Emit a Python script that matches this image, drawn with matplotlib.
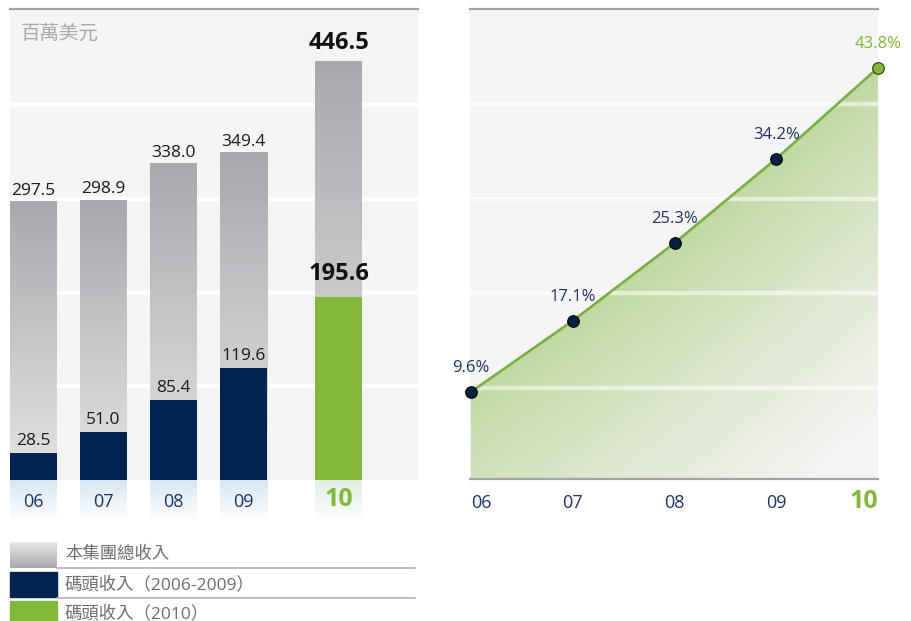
import numpy as np
import matplotlib
matplotlib.use('Agg')
import matplotlib.pyplot as plt
from matplotlib.colors import LinearSegmentedColormap, to_rgb
from matplotlib.patches import Polygon
from matplotlib.transforms import blended_transform_factory

# ---------------- data ----------------
years = ['06', '07', '08', '09', '10']
total_revenue = [297.5, 298.9, 338.0, 349.4, 446.5]
port_revenue = [28.5, 51.0, 85.4, 119.6, 195.6]
port_share = [9.6, 17.1, 25.3, 34.2, 43.8]
unit_label = '百萬美元'
legend_labels = ['本集團總收入', '碼頭收入（2006-2009）', '碼頭收入（2010）']

plt.rcParams['font.family'] = ['Open Sans', 'Noto Sans CJK TC', 'DejaVu Sans']

W, H = 911, 621
fig = plt.figure(figsize=(W / 100, H / 100), dpi=100)
fig.patch.set_facecolor('white')


def px_axes(x0, y0, x1, y1, **kw):
    return fig.add_axes([x0 / W, 1 - y1 / H, (x1 - x0) / W, (y1 - y0) / H], **kw)


NAVY = '#02234f'
GREEN = '#82b73a'
TXT_NAVY = '#1d3461'
BG = '#f4f4f4'
LINE_GRAY = '#a3a3a3'
FS = 12.5

grad = np.linspace(0, 1, 256).reshape(-1, 1)

# ---------------- left: bar chart ----------------
axL = px_axes(10, 9, 418, 480)
axL.set_facecolor(BG)
step = 70.0
xpos = np.array([0, 1, 2, 3, 4.36])
bw = 47 / step
xl = ((10 - 33.5) / step, (418 - 33.5) / step)
yl = (0, 503)
for s in axL.spines.values():
    s.set_visible(False)
axL.set_xticks([])
axL.set_yticks([])
for g in [100, 200, 300, 400]:
    axL.axhline(g, color='white', lw=3.2, zorder=1)
axL.axhline(yl[1], color=LINE_GRAY, lw=1.6, clip_on=False, zorder=6)

gray_cmap = LinearSegmentedColormap.from_list('gbar', ['#e4e4e5', '#a8a9ad'])
for x, v in zip(xpos, total_revenue):
    axL.imshow(grad, cmap=gray_cmap, extent=[x - bw / 2, x + bw / 2, 0, v],
               origin='lower', aspect='auto', zorder=2, interpolation='bilinear')
axL.bar(xpos[:4], port_revenue[:4], width=bw, color=NAVY, zorder=3)
axL.bar(xpos[4], port_revenue[4], width=bw, color=GREEN, zorder=3)

for i, (x, v) in enumerate(zip(xpos, total_revenue)):
    if i == 4:
        axL.annotate(f'{v:.1f}', (x, v), xytext=(0, 5), textcoords='offset points',
                     ha='center', va='bottom', fontsize=17, fontweight='bold',
                     color='#111111', zorder=7)
    else:
        axL.annotate(f'{v:.1f}', (x, v), xytext=(0, 2), textcoords='offset points',
                     ha='center', va='bottom', fontsize=FS, color='#1a1a1a', zorder=7)
for i, (x, v) in enumerate(zip(xpos, port_revenue)):
    if i == 4:
        axL.annotate(f'{v:.1f}', (x, v), xytext=(0, 8), textcoords='offset points',
                     ha='center', va='bottom', fontsize=17, fontweight='bold',
                     color='#111111', zorder=7)
    else:
        axL.annotate(f'{v:.1f}', (x, v), xytext=(0, 3), textcoords='offset points',
                     ha='center', va='bottom', fontsize=FS, color='#1a1a1a', zorder=7)
axL.set_xlim(*xl)
axL.set_ylim(*yl)
axL.text((21 - 10) / 408, 1 - (33 - 9) / 471, unit_label, transform=axL.transAxes,
         ha='left', va='center', fontsize=14, color='#a8a8a8')

# tick area under bars
axT = px_axes(10, 480, 418, 530)
axT.set_axis_off()
blue_cmap = LinearSegmentedColormap.from_list('bt', ['#ffffff', '#d8e6f2'])
green_cmap = LinearSegmentedColormap.from_list('gt', ['#ffffff', '#deecdf'])
for i, x in enumerate(xpos):
    cm = green_cmap if i == 4 else blue_cmap
    axT.imshow(grad, cmap=cm, extent=[x - bw / 2, x + bw / 2, 8, 50],
               origin='lower', aspect='auto', interpolation='bilinear')
    if i == 4:
        axT.text(x, 30, years[i], ha='center', va='center', fontsize=18,
                 fontweight='bold', color=GREEN)
    else:
        axT.text(x, 28, years[i], ha='center', va='center', fontsize=13,
                 color=TXT_NAVY)
axT.set_xlim(*xl)
axT.set_ylim(0, 50)

# ---------------- right: line chart ----------------
axR = px_axes(470, 9, 878, 479)
axR.set_facecolor(BG)
xr = np.arange(len(port_share))
rxl = (-0.01, 4.0)
ryl = (0.4, 50.0)
axR.set_xticks([])
axR.set_yticks([])
for k in ['left', 'right']:
    axR.spines[k].set_visible(False)
for k in ['top', 'bottom']:
    axR.spines[k].set_color(LINE_GRAY)
    axR.spines[k].set_linewidth(1.6)

# gradient fill under the line
nx, ny = 408, 470
gx = np.linspace(rxl[0], rxl[1], nx)
gy = np.linspace(ryl[1], ryl[0], ny)
X, Y = np.meshgrid(gx, gy)
sy = 470 / (ryl[1] - ryl[0])
line_y = np.interp(X, xr, port_share)
vert = (line_y - Y) * sy
t = np.clip(vert * 0.782 / 270.0, 0, 1) ** 0.8
c0 = np.array(to_rgb('#c0d8a0'))
c1 = np.array(to_rgb('#f3f3f1'))
img = c0[None, None, :] * (1 - t[..., None]) + c1[None, None, :] * t[..., None]
im = axR.imshow(img, extent=[rxl[0], rxl[1], ryl[0], ryl[1]], origin='upper',
                aspect='auto', zorder=2, interpolation='bilinear')
poly = Polygon([(xr[0], ryl[0])] + list(zip(xr, port_share)) + [(xr[-1], ryl[0])],
               closed=True, transform=axR.transData, facecolor='none', edgecolor='none')
axR.add_patch(poly)
im.set_clip_path(poly)

for g in [10, 20, 30, 40]:
    axR.axhline(g, color='white', lw=3.2, alpha=0.55, zorder=3)

axR.plot(xr, port_share, color='#76b041', lw=1.9, zorder=4, clip_on=False)
axR.scatter(xr[:4], port_share[:4], s=70, color='#0a2146', edgecolor='#000000',
            linewidth=0.8, zorder=5, clip_on=False)
axR.scatter(xr[4:], port_share[4:], s=70, color=GREEN, edgecolor='#2a3a10',
            linewidth=0.8, zorder=5, clip_on=False)
for i, (x, v) in enumerate(zip(xr, port_share)):
    col = GREEN if i == 4 else TXT_NAVY
    axR.annotate(f'{v:.1f}%', (x, v), xytext=(0, 17), textcoords='offset points',
                 ha='center', va='center', fontsize=12, color=col, zorder=6)
axR.set_xlim(*rxl)
axR.set_ylim(*ryl)

btr = blended_transform_factory(axR.transData, axR.transAxes)
ty = (479 - 503) / 470
for i, x in enumerate(xr):
    ha = 'left' if i == 0 else ('right' if i == len(xr) - 1 else 'center')
    if i == len(xr) - 1:
        axR.text(x, ty + 0.004, years[i], transform=btr, ha=ha, va='center',
                 fontsize=18, fontweight='bold', color=GREEN)
    else:
        axR.text(x, ty, years[i], transform=btr, ha=ha, va='center',
                 fontsize=13, color=TXT_NAVY)

# ---------------- legend ----------------
axG = fig.add_axes([0, 0, 1, 1], zorder=-1)
axG.set_axis_off()
axG.set_xlim(0, W)
axG.set_ylim(H, 0)
leg_gray = LinearSegmentedColormap.from_list('lg', ['#a8a8aa', '#e8e8e8'])
axG.imshow(grad, cmap=leg_gray, extent=[10, 57, 568, 542], origin='lower',
           aspect='auto', interpolation='bilinear')
axG.add_patch(plt.Rectangle((10, 572), 47, 25, color=NAVY))
axG.add_patch(plt.Rectangle((10, 601), 47, 22, color=GREEN))
for yy in [567.5, 597.5]:
    axG.plot([57, 415], [yy, yy], color='#b0b0b0', lw=1.2)
for yy, lab in zip([555, 585, 614], legend_labels):
    axG.text(65, yy, lab, ha='left', va='center', fontsize=12.5, color='#6e6e6e')
axG.set_xlim(0, W)
axG.set_ylim(H, 0)

fig.savefig('out.png', dpi=100, facecolor='white')
